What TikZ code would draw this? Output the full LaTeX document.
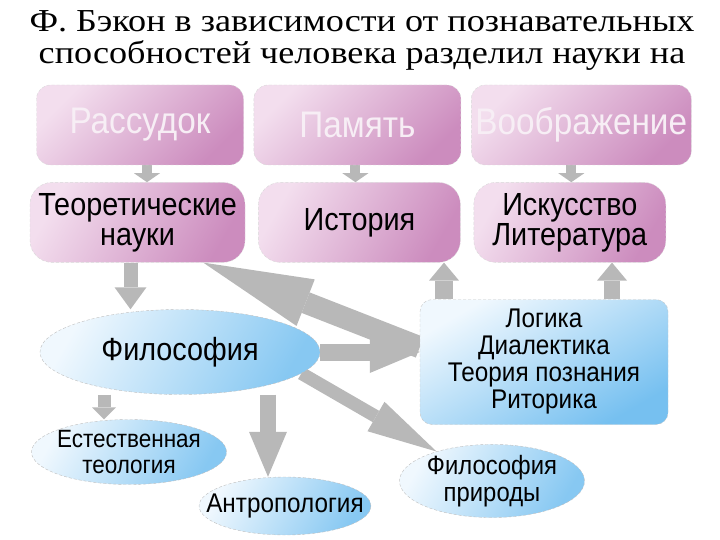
\documentclass[tikz,border=0pt]{standalone}
\usepackage{fontspec}
\setmainfont[FakeStretch=0.9]{Liberation Sans}
\newfontfamily\titlefont[FakeStretch=1.13]{Liberation Serif}
\usetikzlibrary{shapes.geometric,arrows.meta,positioning,backgrounds}
\definecolor{pinklight}{RGB}{243,222,238}
\definecolor{pinkdark}{RGB}{204,140,190}
\definecolor{bluelight}{RGB}{240,248,254}
\definecolor{bluedark}{RGB}{135,200,242}
\definecolor{boxblue}{RGB}{118,192,240}
\definecolor{arrowgray}{RGB}{184,184,184}
\definecolor{ghost}{RGB}{247,238,245}

\begin{document}
\begin{tikzpicture}[x=1pt,y=-1pt,
  topbox/.style={rounded corners=14pt,top color=pinklight,bottom color=pinkdark,shading angle=45,draw=gray!30,densely dashed,minimum height=80pt,minimum width=207pt,inner sep=0pt,font=\fontsize{37}{38}\selectfont,text=ghost},
  pinkbox/.style={rounded corners=22pt,top color=pinklight,bottom color=pinkdark,shading angle=60,draw=gray!30,densely dashed,minimum height=80pt,inner sep=0pt,align=center,font=\fontsize{32}{30}\selectfont},
  bluebox/.style={rounded corners=12pt,top color=bluelight,bottom color=boxblue,shading angle=30,draw=gray!45,densely dashed,minimum height=125pt,minimum width=248pt,inner sep=0pt,align=center,font=\fontsize{27}{27}\selectfont},
  ell/.style={ellipse,top color=bluelight,bottom color=bluedark,shading angle=60,draw=gray!50,densely dashed,inner sep=0pt,align=center},
  arrow/.style n args={3}{draw=arrowgray,line width=#1,-{Triangle[width=#2,length=#3,line width=0pt]}}
]
  \useasboundingbox (0,0) rectangle (720,540);
  \node[font=\titlefont\fontsize{32}{32}\selectfont,align=center] (title) at (362,40) {Ф. Бэкон в зависимости от познавательных\\способностей человека разделил науки на};

  \node[topbox] (ras) at (140,125) {Рассудок};
  \node[topbox,right=10pt of ras] (pam) {Память};
  \node[topbox,right=10pt of pam,minimum width=220pt] (voo) {Воображение};
  \node[pinkbox,minimum width=215pt,below=17pt of ras,xshift=-2.5pt] (teo) {Теоретические\\науки};
  \node[pinkbox,minimum width=202pt,below=17pt of pam,xshift=2pt] (ist) {История};
  \node[pinkbox,minimum width=192pt,below=17pt of voo,xshift=-11.5pt] (isk) {Искусство\\Литература};
  \node[bluebox] (log) at (544,362) {Логика\\Диалектика\\Теория познания\\Риторика};
  \node[ell,minimum width=280pt,minimum height=85pt,font=\fontsize{32}{32}\selectfont] (fil) at (180,352) {Философия};
  \node[ell,minimum width=192pt,minimum height=65pt,inner xsep=-3pt,font=\fontsize{25}{26}\selectfont] (ett) at (129,452) {Естественная\\теология};
  \node[ell,minimum width=170pt,minimum height=58pt,inner xsep=-18pt,font=\fontsize{27}{28}\selectfont] (ant) at (285,506) {Антропология};
  \node[ell,minimum width=185pt,minimum height=73pt,font=\fontsize{26.5}{27}\selectfont] (fpr) at (492,481) {Философия\\природы};

  \begin{scope}[on background layer]
    \draw[arrow={10pt}{26pt}{9pt}] ([xshift=7pt]ras.south) -- ([xshift=7pt]ras.south |- teo.north);
    \draw[arrow={10pt}{26pt}{9pt}] ([xshift=-2pt]pam.south) -- ([xshift=-2pt]pam.south |- ist.north);
    \draw[arrow={10pt}{26pt}{9pt}] ([xshift=-10pt]voo.south) -- ([xshift=-10pt]voo.south |- isk.north);
    \draw[arrow={14pt}{32pt}{22pt}] ([xshift=-7pt]teo.south) -- ([xshift=-7pt]teo.south |- fil.north);
    \draw[arrow={22pt}{50pt}{110pt}] ([yshift=-48pt]log.north west) -- ([xshift=-42pt]teo.south east);
    \draw[arrow={17pt}{42pt}{50pt}] (fil.east) -- (fil.east -| log.west);
    \draw[arrow={13pt}{34pt}{70pt}] (fil.-10) -- (fpr.152);
    \draw[arrow={18pt}{30pt}{18pt}] ([xshift=-100pt]log.north) -- ([xshift=-100pt]log.north |- ist.south);
    \draw[arrow={16pt}{30pt}{18pt}] ([xshift=68pt]log.north) -- ([xshift=68pt]log.north |- isk.south);
    \draw[arrow={13pt}{24pt}{12pt}] ([xshift=-25pt]ett.north |- fil.south) -- ([xshift=-25pt]ett.north);
    \draw[arrow={16pt}{38pt}{45pt}] ([xshift=-17pt]ant.north |- fil.south) -- ([xshift=-17pt]ant.north);
  \end{scope}
\end{tikzpicture}
\end{document}
